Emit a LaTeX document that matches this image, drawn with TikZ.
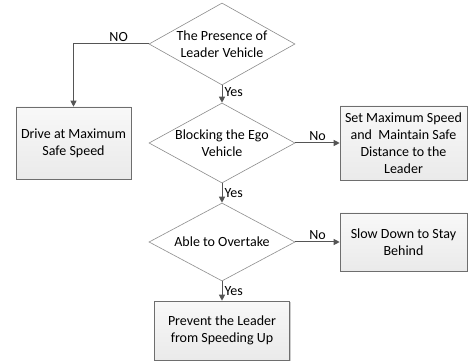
\documentclass[tikz,border=0pt]{standalone}
\usepackage{fontspec}
\setmainfont{Carlito}
\usetikzlibrary{shapes.geometric,arrows.meta,shadows}

\definecolor{linegray}{HTML}{555555}
\definecolor{diagray}{HTML}{8C8C8C}
\definecolor{boxgray}{HTML}{6E6E6E}
\definecolor{boxtop}{HTML}{F8F8F8}
\definecolor{boxfill}{HTML}{EAEAEA}
\newcommand\qfont{\fontsize{14}{17}\selectfont}

\begin{document}
\begin{tikzpicture}[x=1pt,y=-1pt,>={Triangle[length=6pt,width=6pt]},
                    decision/.style={diamond,draw=diagray,fill=white,line width=0.6pt,
                      minimum width=146pt,minimum height=80pt,inner sep=0pt},
                    question/.style={align=center,font=\qfont},
                    block/.style={rectangle,draw=boxgray,line width=0.6pt,
                      top color=boxtop,bottom color=boxfill,inner sep=3pt,
                      drop shadow={shadow xshift=1.2pt,shadow yshift=-1.2pt,fill=black,opacity=0.2},
                      align=center,font=\qfont},
                    flow/.style={->,draw=linegray,line width=1pt},
                    tag/.style={font=\qfont,inner sep=2pt}]

  \useasboundingbox (0,0) rectangle (468,363);

  % decisions
  \node[decision,minimum height=82pt,
        label={[question]center:The Presence of\\Leader Vehicle}] (presence) at (222,44) {};
  \node[decision,label={[question]center:Blocking the Ego\\Vehicle}] (blocking)
        [below of=presence,node distance=99pt] {};
  \node[decision,minimum height=78pt,label={[question]center:Able to Overtake}] (overtake)
        [below of=blocking,node distance=99pt] {};

  % actions
  \node[block,minimum width=115pt,minimum height=72pt] (drive)
        [left of=blocking,node distance=148.5pt] {Drive at Maximum\\Safe Speed};
  \node[block,minimum width=127pt,minimum height=74pt] (setspeed)
        [right of=blocking,node distance=181.5pt] {Set Maximum Speed\\and\ \ Maintain Safe\\Distance to the\\Leader};
  \node[block,minimum width=127pt,minimum height=58pt] (slow)
        [right of=overtake,node distance=181.5pt] {Slow Down to Stay\\Behind};
  \node[block,minimum width=135pt,minimum height=59pt] (prevent)
        [below of=overtake,node distance=88.5pt] {Prevent the Leader\\from Speeding Up};

  \draw[flow] (presence.west) -| (drive.north) node[tag,pos=0.2,above] {NO};
  \draw[flow] (presence.south) -- (blocking.north) node[tag,pos=0.4,right] {Yes};
  \draw[flow] (blocking.east) -- (setspeed.west) node[tag,midway,above] {No};
  \draw[flow] (blocking.south) -- (overtake.north) node[tag,midway,right] {Yes};
  \draw[flow] (overtake.east) -- (slow.west) node[tag,midway,above] {No};
  \draw[flow] (overtake.south) -- (prevent.north) node[tag,midway,right] {Yes};
\end{tikzpicture}
\end{document}
